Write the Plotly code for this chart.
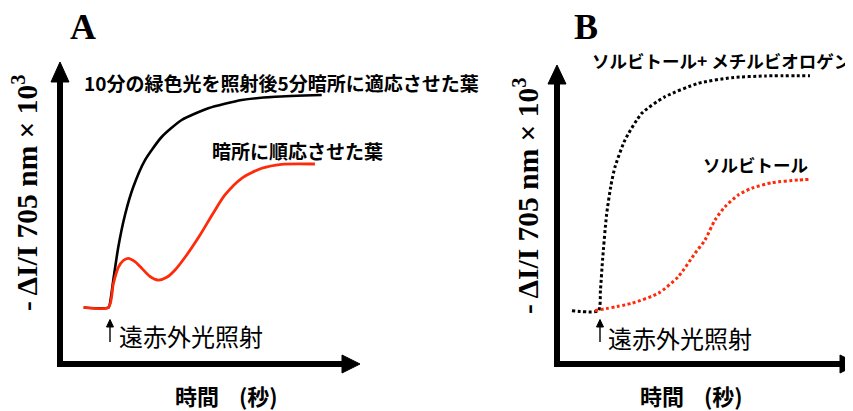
import plotly.graph_objects as go

# The page body has an 8px margin, so the figure is drawn 8px in from the window corner.
OFF = 8
WIN_W, WIN_H = 853, 411
W, H = WIN_W - OFF, WIN_H - OFF

# ---------------- data (time in arbitrary units, signal in arbitrary units) ----------------
a_green_t = [2.41, 4.87, 5.07, 5.35, 5.85, 6.52, 7.35, 8.53, 10.20, 12.21, 14.88, 18.23, 21.57, 26.26]
a_green_v = [5.61, 5.61, 6.36, 8.34, 11.62, 14.80, 17.58, 20.26, 22.55, 24.24, 25.40, 26.22, 26.55, 26.72]

a_dark_t = [2.34, 4.87, 5.35, 5.85, 6.35, 6.85, 7.52, 8.20, 9.03, 9.86, 10.71, 11.54, 12.71, 14.05,
            15.38, 16.55, 18.23, 20.24, 22.24, 25.58]
a_dark_v = [5.63, 5.63, 7.95, 9.59, 10.28, 10.50, 10.16, 9.51, 8.69, 8.34, 8.61, 9.34, 10.83, 12.81,
            15.00, 16.79, 18.45, 19.44, 19.84, 19.87]

b_mv_t = [1.50, 4.16, 4.36, 4.57, 4.97, 5.42, 5.82, 6.82, 8.50, 10.84, 14.18, 17.53, 20.87, 25.38]
b_mv_v = [5.35, 5.35, 7.42, 10.43, 14.95, 17.96, 19.77, 22.47, 25.15, 26.82, 28.16, 28.73, 28.90, 28.93]

b_sorb_t = [3.81, 7.49, 10.16, 12.17, 13.85, 14.85, 15.85, 16.86, 18.19, 19.53, 21.54, 24.21, 25.38]
b_sorb_v = [5.35, 6.09, 7.09, 8.76, 11.11, 12.44, 14.45, 15.78, 16.96, 17.63, 18.19, 18.46, 18.53]

label_green = "10分の緑色光を照射後5分暗所に適応させた葉"
label_dark = "暗所に順応させた葉"
label_mv = "ソルビトール+ メチルビオロゲン"
label_sorb = "ソルビトール"
label_fr = "遠赤外光照射"
x_title = "時間\u00a0\u00a0\u00a0\u00a0(秒)"
y_title = "- ΔI/I 705 nm × 10<sup>3</sup>"

RED = "#ff2a0a"
JP = "Noto Sans CJK JP"
SERIF = "Liberation Serif"


def px(x):
    return (x - OFF) / W


def py(y):
    return 1 - (y - OFF) / H


fig = go.Figure()

fig.add_trace(go.Scatter(x=a_green_t, y=a_green_v, mode="lines", xaxis="x", yaxis="y",
                         line=dict(color="black", width=2.6, shape="spline", smoothing=0.6),
                         showlegend=False, hoverinfo="skip"))
fig.add_trace(go.Scatter(x=a_dark_t, y=a_dark_v, mode="lines", xaxis="x", yaxis="y",
                         line=dict(color=RED, width=2.8, shape="spline", smoothing=0.7),
                         showlegend=False, hoverinfo="skip"))
fig.add_trace(go.Scatter(x=b_mv_t, y=b_mv_v, mode="lines", xaxis="x2", yaxis="y2",
                         line=dict(color="black", width=3, dash="3px,2.5px", shape="spline", smoothing=0.6),
                         showlegend=False, hoverinfo="skip"))
fig.add_trace(go.Scatter(x=b_sorb_t, y=b_sorb_v, mode="lines", xaxis="x2", yaxis="y2",
                         line=dict(color=RED, width=3, dash="3px,2.5px", shape="spline", smoothing=0.6),
                         showlegend=False, hoverinfo="skip"))

hidden = dict(visible=False, showgrid=False, zeroline=False, fixedrange=True)
fig.update_layout(
    width=W, height=H,
    margin=dict(l=0, r=0, t=0, b=0),
    paper_bgcolor="white", plot_bgcolor="rgba(0,0,0,0)",
    xaxis=dict(domain=[px(60), px(359)], range=[0, 30], **hidden),
    yaxis=dict(domain=[py(364), py(62)], range=[0, 30], **hidden),
    xaxis2=dict(domain=[px(557), 1.0], range=[0, 29.70], anchor="y2", **hidden),
    yaxis2=dict(domain=[py(364), py(65)], range=[0, 30], anchor="x2", **hidden),
)

# ---------------- axes with arrowheads ----------------
shapes = []
LW = 6


def seg(x0, y0, x1, y1, width):
    shapes.append(dict(type="line", xref="paper", yref="paper", x0=px(x0), x1=px(x1),
                       y0=py(y0), y1=py(y1), line=dict(color="black", width=width), layer="above"))


def tri(points):
    p = "M " + " L ".join(f"{px(a):.5f},{py(b):.5f}" for a, b in points) + " Z"
    shapes.append(dict(type="path", xref="paper", yref="paper", path=p,
                       fillcolor="black", line=dict(color="black", width=1), layer="above"))


# panel A
seg(60, 366.5, 60, 80, LW)
seg(57, 364, 343, 364, LW)
tri([(51, 82), (60, 62), (69, 82)])
tri([(342, 355), (360, 364), (342, 373)])
# panel B
seg(557, 366.5, 557, 83, LW)
seg(554, 364, 842, 364, LW)
tri([(548, 84), (557, 65), (566, 84)])
tri([(840, 355), (858, 364), (840, 373)])
# small "far-red on" arrows
for ax_x in (110, 600):
    seg(ax_x, 342, ax_x, 325, 1.4)
    tri([(ax_x - 3.5, 327), (ax_x, 319.5), (ax_x + 3.5, 327)])
fig.update_layout(shapes=shapes)

# ---------------- text ----------------
ann = []


def text(t, x, y, size, family=JP, weight="bold", xanchor="left", angle=0, color="black"):
    ann.append(dict(text=t, x=px(x), y=py(y), xref="paper", yref="paper",
                    xanchor=xanchor, yanchor="middle", showarrow=False, textangle=angle,
                    font=dict(family=family, size=size, weight=weight, color=color)))


text("A", 83, 27, 36, family=SERIF, xanchor="center")
text("B", 586, 27, 36, family=SERIF, xanchor="center")
text(label_green, 82, 83, 19)
text(label_dark, 210, 150, 19)
text(label_mv, 590, 60, 17.5)
text(label_sorb, 701, 164, 17.5)
text(label_fr, 117, 335, 24, weight="normal")
text(label_fr, 606, 337, 24, weight="normal")
text(x_title, 226, 395, 22, xanchor="center")
text(x_title, 691, 395, 22, xanchor="center")
text(y_title, 25, 193, 29.5, family=SERIF, xanchor="center", angle=-90)
text(y_title, 526, 196, 29.5, family=SERIF, xanchor="center", angle=-90)
fig.update_layout(annotations=ann)

fig.write_html("out.html")
